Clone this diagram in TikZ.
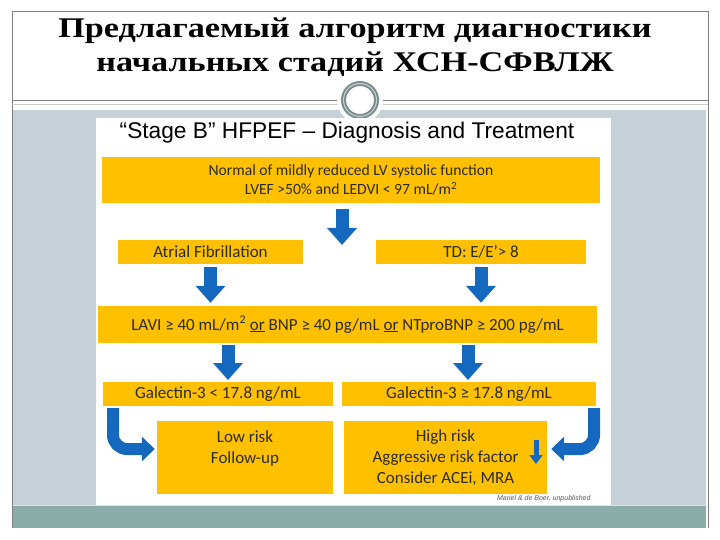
\documentclass[tikz,border=0pt]{standalone}
\usepackage{fontspec}
\setmainfont{Liberation Serif}
\newfontfamily\carl{Carlito}
\newfontfamily\arialf{Liberation Sans}
\newfontfamily\titlef[FakeStretch=1.2]{Liberation Serif}
\usetikzlibrary{arrows.meta}
\definecolor{gold}{HTML}{FFC000}
\definecolor{bluearr}{HTML}{1468BE}
\definecolor{panel}{HTML}{C5D1D7}
\definecolor{tealbar}{HTML}{8AADAA}
\definecolor{frameline}{HTML}{808080}
\definecolor{ringc}{HTML}{7A8C8C}
\definecolor{txt}{HTML}{2B2B2B}
\tikzset{
  gbox/.style={fill=gold, inner sep=0pt, text=txt, align=center,
    font=\carl\fontsize{17}{21}\selectfont},
  bigarrow/.style={draw=bluearr, line width=13pt,
    -{Triangle[width=29pt,length=17pt]}},
  curvearrow/.style={draw=bluearr, line width=12pt, rounded corners=14pt,
    -{Triangle[width=24pt,length=13pt]}},
  smallarrow/.style={draw=bluearr, line width=5pt,
    -{Triangle[width=13pt,length=9pt]}}
}
\begin{document}
\begin{tikzpicture}[x=1pt,y=-1pt]
\useasboundingbox (0,0) rectangle (720,540);
\fill[white] (0,0) rectangle (720,540);
% slide frame
\fill[panel] (12,110) rectangle (706,505);
\fill[tealbar] (12,505) rectangle (706,528);
\draw[white!70!tealbar, line width=1pt] (12,505) -- (706,505);
\draw[frameline, line width=0.8pt] (12,11) -- (708,11);
\draw[frameline, line width=0.8pt] (12,11) -- (12,528);
\draw[frameline, line width=0.8pt] (708,11) -- (708,528);
\draw[frameline, line width=0.8pt] (12,100) -- (708,100);
\draw[frameline!40, line width=0.6pt] (12,104) -- (708,104);
% ornament
\fill[white] (360,100) circle (23);
\draw[ringc, line width=5pt] (360,100) circle (16.5);
\draw[white!60!ringc, line width=1pt] (360,100) circle (16.5);
% title
\node[font=\titlef\bfseries\fontsize{28.5}{34}\selectfont, align=center]
  (title) at (355,47) {Предлагаемый алгоритм диагностики\\начальных стадий ХСН-СФВЛЖ};
% inner figure
\fill[white] (96,118) rectangle (611,505);
\node[font=\arialf\fontsize{22.7}{26}\selectfont, text=black]
  (ftitle) at (347,133) {“Stage B” HFPEF – Diagnosis and Treatment};
\node[gbox, minimum width=498pt, minimum height=46pt, font=\carl\fontsize{15.6}{19}\selectfont]
  (top) at (351,180)
  {Normal of mildly reduced LV systolic function\\LVEF >50\% and LEDVI < 97 mL/m\textsuperscript{2}};
\node[gbox, minimum width=185pt, minimum height=24pt] (af) at (210.5,252) {Atrial Fibrillation};
\node[gbox, minimum width=210pt, minimum height=24pt] (td) at (481,252) {TD: E/E’> 8};
\node[gbox, minimum width=499pt, minimum height=37pt]
  (lavi) at (347.5,324.5)
  {LAVI ≥ 40 mL/m\textsuperscript{2} \underline{or} BNP ≥ 40 pg/mL \underline{or} NTproBNP ≥ 200 pg/mL};
\node[gbox, minimum width=230pt, minimum height=24pt]
  (galL) at (218,394) {Galectin-3 < 17.8 ng/mL};
\node[gbox, minimum width=254pt, minimum height=24pt]
  (galR) at (469,394) {Galectin-3 ≥ 17.8 ng/mL};
\node[gbox, minimum width=176pt, minimum height=73pt] (low) at (245,457.5)
  {Low risk\\Follow-up\\\mbox{}};
\node[gbox, minimum width=203pt, minimum height=73pt] (high) at (445.5,457.5)
  {High risk\\Aggressive risk factor\\Consider ACEi, MRA};
\node[font=\arialf\itshape\fontsize{7}{8}\selectfont, text=black!65, anchor=east]
  (cite) at (594,499) {Mariel \& de Boer, unpublished};
% arrows
\coordinate (a1s) at (342,209);
\coordinate (a1e) at (342,245);
\draw[bigarrow] (a1s) -- (a1e);
\draw[bigarrow] ([yshift=-3pt]af.south) -- ([yshift=3pt]af.south |- lavi.north);
\draw[bigarrow] ([yshift=-3pt]td.south) -- ([yshift=3pt]td.south |- lavi.north);
\coordinate (a4s) at (228,345);
\coordinate (a4e) at (228,380);
\draw[bigarrow] (a4s) -- (a4e);
\coordinate (a5s) at (468,345);
\coordinate (a5e) at (468,380);
\draw[bigarrow] (a5s) -- (a5e);
\coordinate (cLs) at (113,408);
\draw[curvearrow] (cLs) -- (cLs |- 0,449) -- ([xshift=-2pt]low.west |- 0,449);
\coordinate (cRs) at (594,408);
\draw[curvearrow] (cRs) -- (cRs |- 0,449) -- ([xshift=4pt]high.east |- 0,449);
\coordinate (sas) at (536,440);
\coordinate (sae) at (536,464);
\draw[smallarrow] (sas) -- (sae);
\end{tikzpicture}
\end{document}
